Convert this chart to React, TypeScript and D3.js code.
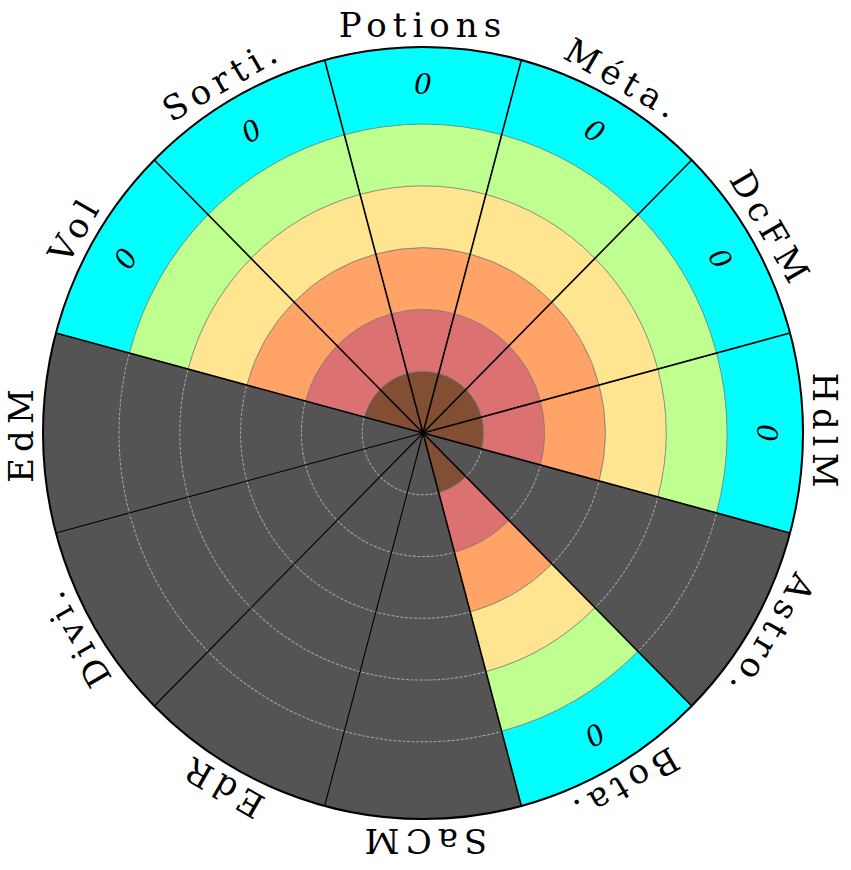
import React from "react";
import * as d3 from "d3";

const categories = ["Potions", "Méta.", "DcFM", "HdlM", "Astro.", "Bota.", "SaCM", "EdR", "Divi.", "EdM", "Vol", "Sorti."];
const scores = [6.25, 6.25, 6.25, 6.25, 0, 6.25, 0, 0, 0, 0, 6.25, 6.25];
const valueLabels = ["0", "0", "0", "0", "", "0", "", "", "", "", "0", "0"];
const levelBreaks = [0, 1, 2, 3, 4, 5, 6.25];
const levelColors = ["#824f34", "#db7171", "#ffa466", "#ffe58f", "#bfff8f", "#00ffff"];
const gridTicks = [1, 2, 3, 4, 5];

const W = 851;
const H = 870;
const cx = 423;
const cy = 433;
const R = 380;
const SY = 1.016;
const FONT = "'DejaVu Serif', serif";

export default function App() {
  const n = categories.length;
  const step = (2 * Math.PI) / n;
  const r = d3.scaleLinear().domain([0, 6.25]).range([0, R]);
  const a0 = (i: number) => i * step - step / 2;
  const a1 = (i: number) => i * step + step / 2;
  const arc = d3.arc<any>();

  const wedges: JSX.Element[] = [];
  categories.forEach((c, i) => {
    const s = scores[i];
    if (s <= 0) return;
    for (let k = 0; k < levelColors.length; k++) {
      const lo = levelBreaks[k];
      const hi = Math.min(levelBreaks[k + 1], s);
      if (hi <= lo) continue;
      wedges.push(
        <path
          key={`w${i}-${k}`}
          d={arc({ innerRadius: r(lo), outerRadius: r(hi), startAngle: a0(i), endAngle: a1(i) }) || ""}
          fill={levelColors[k]}
          stroke="#7a7a7a"
          strokeWidth={0.6}
        />
      );
    }
  });

  const radial = categories.map((c, i) => {
    const ang = a0(i);
    const x = r(6.25) * Math.sin(ang);
    const y = -r(6.25) * Math.cos(ang);
    const prev = (i - 1 + n) % n;
    const colored = scores[i] > 0 || scores[prev] > 0;
    return (
      <line key={`l${i}`} x1={0} y1={0} x2={x} y2={y} stroke="#000" strokeWidth={colored ? 1.6 : 1.1} />
    );
  });

  return (
    <svg width={W} height={H} style={{ position: "absolute", left: 0, top: 0 }}>
      <rect width={W} height={H} fill="#fff" />
      <g transform={`translate(${cx},${cy}) scale(1,${SY})`}>
        <circle r={R} fill="#545454" />
        {gridTicks.map((t) => (
          <circle key={`g${t}`} r={r(t)} fill="none" stroke="#a8a8a8" strokeWidth={1} strokeDasharray="3,1.5" />
        ))}
        {wedges}
        {radial}
        <circle r={R} fill="none" stroke="#000" strokeWidth={2} />
      </g>
      {categories.map((c, i) => {
        const deg = (i * 360) / n;
        const ang = i * step;
        const rr = 390;
        const x = cx + rr * Math.sin(ang);
        const y = cy - rr * SY * Math.cos(ang);
        return (
          <text
            key={`t${i}`}
            transform={`translate(${x},${y}) rotate(${deg})`}
            textAnchor="middle"
            fontFamily={FONT}
            fontSize={34}
            letterSpacing={6}
            fill="#000"
          >
            {c}
          </text>
        );
      })}
      {categories.map((c, i) => {
        if (!valueLabels[i]) return null;
        const deg = (i * 360) / n;
        const ang = i * step;
        const rr = 343;
        const x = cx + rr * Math.sin(ang);
        const y = cy - rr * SY * Math.cos(ang);
        return (
          <text
            key={`v${i}`}
            transform={`translate(${x},${y}) rotate(${deg})`}
            textAnchor="middle"
            dominantBaseline="central"
            fontFamily={FONT}
            fontStyle="italic"
            fontSize={28}
            fill="#000"
          >
            {valueLabels[i]}
          </text>
        );
      })}
    </svg>
  );
}
